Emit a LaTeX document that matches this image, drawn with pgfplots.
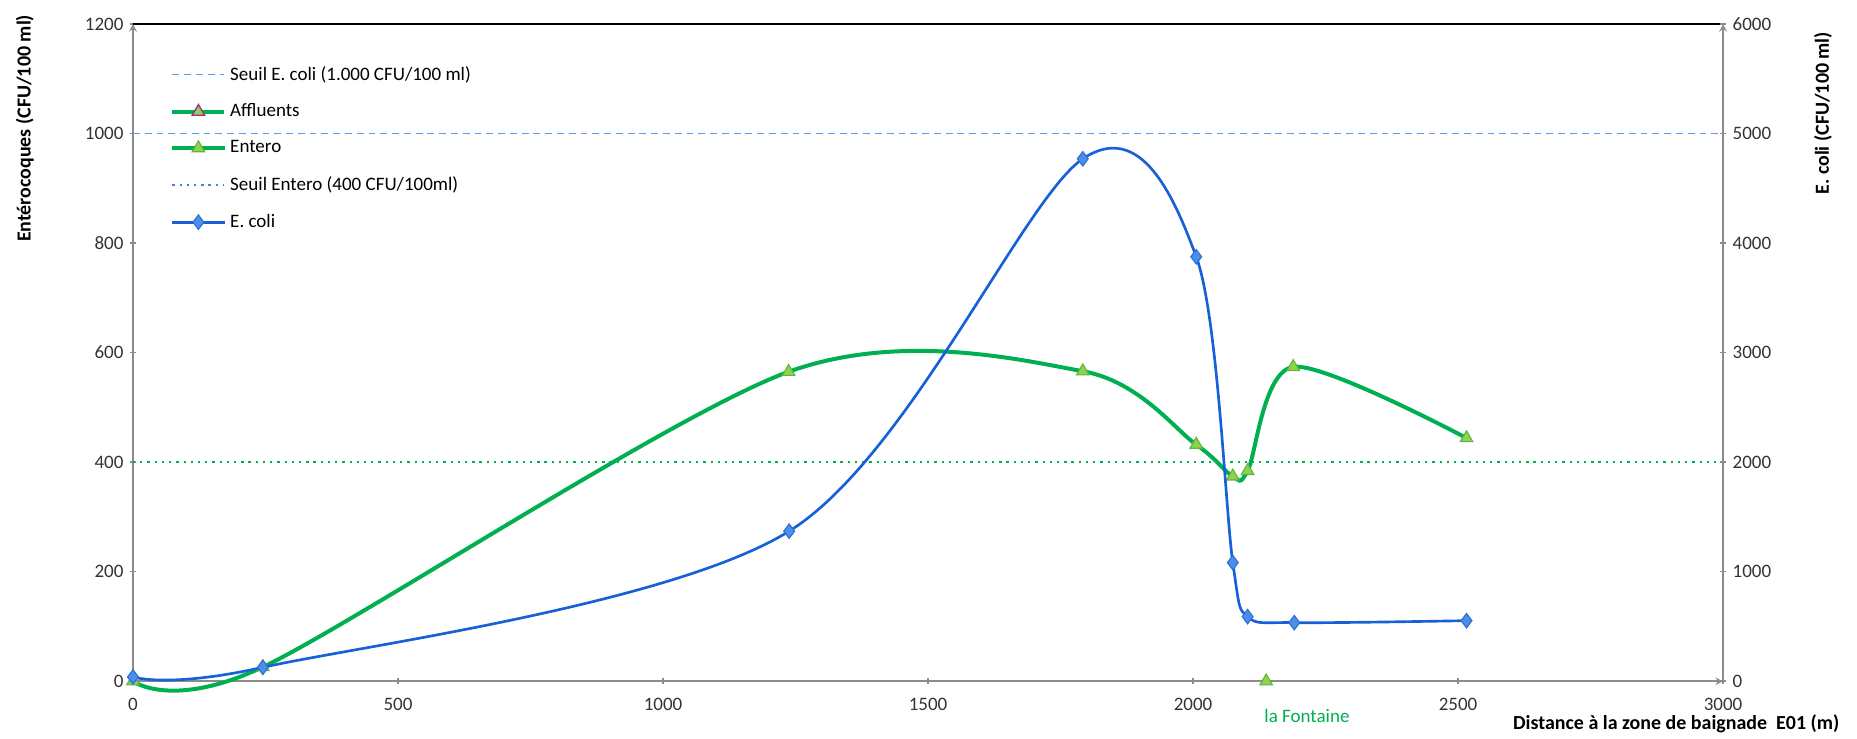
\documentclass[border=0pt]{standalone}
\usepackage{fontspec}
\setmainfont{Carlito}
\usepackage{pgfplots}
\pgfplotsset{compat=1.18}

\definecolor{entero}{HTML}{00B050}
\definecolor{enterofill}{HTML}{92D050}
\definecolor{enteroedge}{HTML}{5CB83A}
\definecolor{coli}{HTML}{1660D8}
\definecolor{colifill}{HTML}{4A90E8}
\definecolor{coliedge}{HTML}{2F6FD6}
\definecolor{seuilcoli}{HTML}{5E9CEC}
\definecolor{seuilleg}{HTML}{4A80E0}
\definecolor{affedge}{HTML}{A0308C}
\definecolor{axisgray}{HTML}{8C8C8C}

\begin{document}
\begin{tikzpicture}
\pgfplotsset{
  base/.style={
    width=837pt, height=346pt, scale only axis,
    xmin=0, xmax=3000, clip=false,
    tick align=outside, major tick length=3pt,
    every tick/.style={axisgray, line width=0.8pt},
    axis line style={-, axisgray, line width=0.8pt},
    /pgf/number format/assume math mode=true,
    /pgf/number format/1000 sep={},
    tick label style={font=\fontsize{10}{12}\selectfont, text=black!80},
  },
  enteroline/.style={entero, line width=2.1pt, smooth, tension=0.5,
    mark=triangle*, mark size=3.8pt,
    mark options={solid, fill=enterofill, draw=enteroedge, line width=0.6pt}},
  coliline/.style={coli, line width=1.4pt, smooth, tension=0.52,
    mark=diamond*, mark size=3.8pt,
    mark options={solid, fill=colifill, draw=coliedge, line width=0.6pt}},
}

\begin{axis}[base, name=ax,
  axis x line=bottom, axis y line=left,
  ymin=0, ymax=1200, ytick={0,200,...,1200},
  xtick={0,500,...,3000},
  xticklabel style={yshift=-4pt},
  ylabel={\bfseries Entérocoques (CFU/100 ml)},
  ylabel style={font=\fontsize{10.5}{12}\selectfont,
    at={([xshift=-57pt,yshift=-55pt]axis description cs:0,1)}, anchor=center},
  xlabel={\bfseries Distance à la zone de baignade\ \ E01 (m)},
  xlabel style={font=\fontsize{10.5}{12}\selectfont,
    at={([xshift=64.7pt,yshift=-22.6pt]axis description cs:1,0)}, anchor=east},
  legend style={draw=none, fill=none, inner sep=0pt,
    at={(axis description cs:0,1)}, anchor=north west,
    xshift=19.5pt, yshift=-20pt, row sep=7pt,
    font=\fontsize{10}{12}\selectfont, cells={anchor=west}},
  legend image code/.code={\draw[mark repeat=2,mark phase=2]
    plot coordinates {(0pt,0pt) (13.7pt,0pt) (27.4pt,0pt)};},
]
% legend entries
\addlegendimage{seuilcoli, line width=0.7pt, dash pattern=on 3.6pt off 2.6pt}
\addlegendentry{Seuil E. coli (1.000 CFU/100 ml)}
\addlegendimage{entero, line width=2.1pt, mark=triangle*, mark size=3.8pt,
  mark options={solid, fill=enterofill, draw=affedge, line width=0.7pt}}
\addlegendentry{Affluents}
\addlegendimage{enteroline}
\addlegendentry{Entero}
\addlegendimage{seuilleg, line width=1.2pt, dash pattern=on 1.2pt off 2.6pt}
\addlegendentry{Seuil Entero (400 CFU/100ml)}
\addlegendimage{coliline}
\addlegendentry{E. coli}

% seuils
\addplot[forget plot, seuilcoli, line width=0.7pt, dash pattern=on 3.6pt off 2.6pt]
  coordinates {(0,1000) (3000,1000)};
\addplot[forget plot, entero, line width=1.2pt, dash pattern=on 1.2pt off 2.6pt]
  coordinates {(0,400) (3000,400)};

% Entero
\addplot[forget plot, enteroline] coordinates {
  (0,0) (245,26) (1237,565) (1792,566) (2006,432) (2075,374) (2103,384) (2189,574) (2516,444)
};

% affluent
\addplot[forget plot, only marks, mark=triangle*, mark size=3.8pt,
  mark options={fill=enterofill, draw=enteroedge, line width=0.6pt}]
  coordinates {(2138,0)};
\node[text=entero, font=\fontsize{10}{12}\selectfont]
  at ([yshift=-18.4pt]axis cs:2215,0) {la Fontaine};

\draw[black, line width=0.8pt] (rel axis cs:0,1) -- (rel axis cs:1,1);
\end{axis}

\begin{axis}[base,
  axis x line=none, axis y line=right,
  ymin=0, ymax=6000, ytick={0,1000,...,6000},
  ylabel={\bfseries E. coli (CFU/100 ml)},
  ylabel style={font=\fontsize{10.5}{12}\selectfont,
    at={([xshift=52.6pt,yshift=-47pt]axis description cs:1,1)}, anchor=center},
]
\addplot[coliline] coordinates {
  (0,39) (245,127) (1238,1370) (1792,4769) (2006,3875) (2075,1083) (2103,590) (2191,535) (2516,553)
};
\end{axis}

\pgfresetboundingbox
\path ([shift={(-70pt,-30pt)}]ax.south west) rectangle ([shift={(70.5pt,12.6pt)}]ax.north east);
\end{tikzpicture}
\end{document}
